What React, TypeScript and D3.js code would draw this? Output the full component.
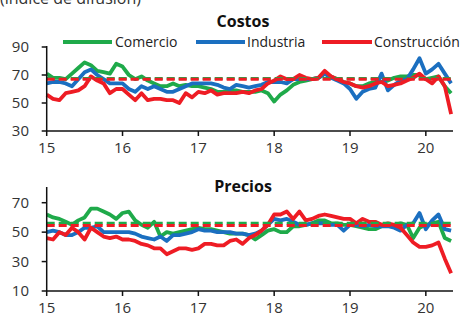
import React from "react";
import * as d3 from "d3";

const startYear = 2015;
const yearLabels = ["15", "16", "17", "18", "19", "20"];
const seriesNames = ["Comercio", "Industria", "Construcción"];
const colors = ["#1faa4a", "#1b6fc0", "#ee1c24"];

const costosComercio = [71, 68, 68, 67, 71, 75, 79, 77, 73, 72, 71, 78, 76, 70, 67, 69, 66, 64, 62, 62, 64, 62, 63, 62, 62, 61, 60, 58, 58, 59, 59,
  58, 58, 58, 59, 57, 51, 56, 59, 63, 65, 66, 67, 68, 71, 69, 67, 65, 64, 62, 62, 64, 65, 65, 66, 68, 69, 69, 70, 70, 67, 68, 69, 62, 57];
const costosIndustria = [64, 65, 65, 64, 62, 67, 72, 74, 70, 67, 64, 64, 64, 60, 58, 62, 60, 62, 60, 58, 58, 60, 62, 64, 64, 64, 64, 63, 61, 60, 63,
  62, 61, 62, 63, 65, 65, 65, 64, 67, 67, 67, 67, 68, 71, 68, 66, 64, 60, 53, 58, 60, 61, 71, 59, 63, 66, 67, 74, 82, 71, 74, 78, 71, 64];
const costosConstruccion = [56, 53, 52, 57, 58, 59, 62, 69, 66, 64, 57, 60, 60, 56, 52, 57, 52, 53, 53, 52, 52, 50, 57, 54, 58, 57, 59, 56, 57, 57, 57,
  58, 57, 59, 60, 64, 66, 69, 67, 67, 70, 68, 67, 68, 73, 69, 67, 65, 64, 62, 61, 62, 64, 65, 62, 63, 64, 66, 68, 71, 67, 64, 69, 62, 42];

const preciosComercio = [62, 60, 59, 57, 55, 58, 60, 66, 66, 64, 62, 59, 63, 64, 58, 55, 53, 57, 47, 50, 49, 50, 51, 52, 53, 52, 52, 51, 50, 49, 49,
  49, 48, 45, 48, 51, 52, 50, 50, 54, 54, 55, 56, 58, 58, 56, 56, 55, 55, 54, 53, 52, 52, 54, 55, 55, 56, 55, 46, 53, 55, 56, 57, 46, 44];
const preciosIndustria = [50, 51, 50, 48, 48, 50, 53, 53, 54, 50, 50, 50, 50, 50, 49, 47, 46, 45, 47, 44, 48, 48, 49, 50, 52, 51, 51, 50, 50, 50, 49,
  49, 48, 49, 51, 55, 59, 58, 59, 57, 55, 55, 56, 56, 56, 55, 55, 51, 55, 55, 54, 55, 54, 54, 54, 53, 51, 55, 56, 63, 52, 58, 62, 52, 51];
const preciosConstruccion = [46, 45, 50, 48, 53, 50, 45, 53, 50, 47, 46, 47, 45, 45, 44, 42, 41, 39, 39, 35, 37, 39, 39, 38, 39, 42, 42, 41, 41, 44, 45,
  42, 46, 48, 51, 55, 62, 62, 64, 59, 64, 58, 59, 61, 62, 61, 60, 59, 59, 56, 59, 57, 57, 55, 56, 55, 53, 48, 43, 40, 40, 41, 43, 32, 22];

const costosAvg = [67.5, 67, 67];
const preciosAvg = [56, 55, 54.5];

const costosTicks = [30, 50, 70, 90];
const preciosTicks = [10, 30, 50, 70];

const FONT = "'Open Sans', sans-serif";

type PanelProps = {
  title: string;
  series: number[][];
  avgs: number[];
  domain: [number, number];
  ticks: number[];
  top: number;
  bottom: number;
  titleY: number;
};

const x = d3.scaleLinear().domain([0, 64.3]).range([46.7, 453]);

function Panel({ title, series, avgs, domain, ticks, top, bottom, titleY }: PanelProps) {
  const y = d3.scaleLinear().domain(domain).range([bottom, top]);
  const line = d3.line<number>().x((_, i) => x(i)).y((v) => y(v)).curve(d3.curveLinear);
  const yearTicks = yearLabels.map((_, i) => i * 12);
  return (
    <g>
      <text x={243} y={titleY} textAnchor="middle" fontFamily={FONT} fontWeight="bold" fontSize={16} fill="#111">{title}</text>
      {series.map((s, i) => (
        <path key={i} d={line(s) || ""} fill="none" stroke={colors[i]} strokeWidth={3.8} strokeLinejoin="round" />
      ))}
      {[0, 2].map((i) => (
        <line key={"a" + i} x1={x(0)} x2={x(64)} y1={y(avgs[i])} y2={y(avgs[i])} stroke={colors[i]} strokeWidth={3} strokeDasharray="8 4" />
      ))}
      <line x1={x(0)} x2={x(0)} y1={top - 1} y2={bottom} stroke="#111" strokeWidth={1.5} />
      <line x1={x(0)} x2={x(64.3)} y1={bottom} y2={bottom} stroke="#111" strokeWidth={1.5} />
      {ticks.map((t) => (
        <g key={t}>
          <line x1={x(0) - 5} x2={x(0)} y1={y(t)} y2={y(t)} stroke="#111" strokeWidth={1.5} />
          <text x={29} y={y(t) + 5} textAnchor="end" fontFamily={FONT} fontSize={15} fill="#333">{t}</text>
        </g>
      ))}
      {yearTicks.map((m, i) => (
        <g key={m}>
          <line x1={x(m)} x2={x(m)} y1={bottom} y2={bottom + 5} stroke="#111" strokeWidth={1.5} />
          <text x={x(m)} y={bottom + 22} textAnchor="middle" fontFamily={FONT} fontSize={15} fill="#333">{yearLabels[i]}</text>
        </g>
      ))}
    </g>
  );
}

export default function App() {
  const legendItems = [
    { x1: 63, x2: 112, tx: 115 },
    { x1: 196, x2: 245, tx: 247 },
    { x1: 322, x2: 372, tx: 374 },
  ];
  return (
    <svg width={464} height={320} style={{ position: "absolute", left: 0, top: 0, background: "#fff" }}>
      <text x={0} y={4} fontFamily={FONT} fontSize={16} fill="#333">(índice de difusión)</text>
      <Panel title="Costos" series={[costosComercio, costosIndustria, costosConstruccion]} avgs={costosAvg}
        domain={[30, 90]} ticks={costosTicks} top={47} bottom={131} titleY={27} />
      {legendItems.map((l, i) => (
        <g key={i}>
          <line x1={l.x1} x2={l.x2} y1={42} y2={42} stroke={colors[i]} strokeWidth={4} />
          <text x={l.tx} y={47} fontFamily={FONT} fontSize={14} fill="#222">{seriesNames[i]}</text>
        </g>
      ))}
      <Panel title="Precios" series={[preciosComercio, preciosIndustria, preciosConstruccion]} avgs={preciosAvg}
        domain={[10, 80]} ticks={preciosTicks} top={188} bottom={291} titleY={192} />
    </svg>
  );
}
